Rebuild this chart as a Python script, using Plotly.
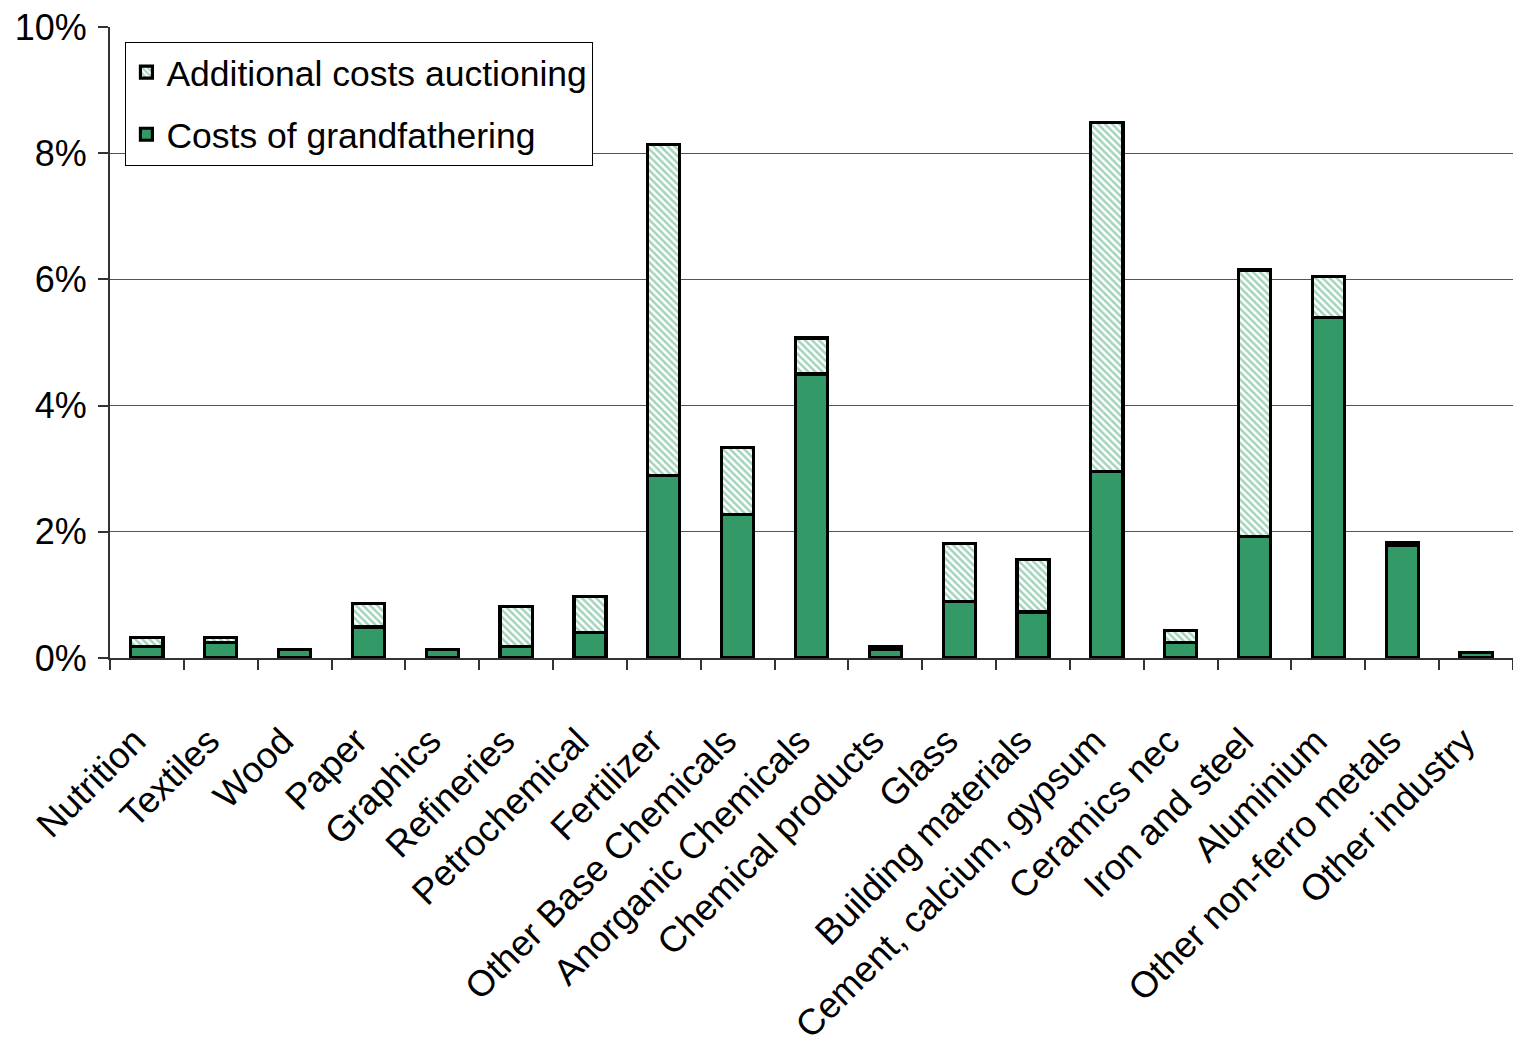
import plotly.graph_objects as go

# Sector names (x categories)
sectors = [
    "Nutrition", "Textiles", "Wood", "Paper", "Graphics", "Refineries",
    "Petrochemical", "Fertilizer", "Other Base Chemicals", "Anorganic Chemicals",
    "Chemical products", "Glass", "Building materials", "Cement, calcium, gypsum",
    "Ceramics nec", "Iron and steel", "Aluminium", "Other non-ferro metals",
    "Other industry",
]

# Cost increase under grandfathering (% of production value)
grandfathering = [0.18, 0.24, 0.14, 0.49, 0.14, 0.18, 0.41, 2.89, 2.27, 4.50,
                  0.13, 0.90, 0.73, 2.95, 0.24, 1.92, 5.39, 1.78, 0.09]

# Extra cost when allowances are fully auctioned (% of production value)
auction_extra = [0.14, 0.08, 0.0, 0.37, 0.0, 0.63, 0.57, 5.25, 1.07, 0.57,
                 0.05, 0.92, 0.83, 5.54, 0.20, 4.23, 0.66, 0.05, 0.0]

y_ticks = [0, 2, 4, 6, 8, 10]
y_tick_text = [f"{v}%" for v in y_ticks]

GREEN = "#339966"
FONT = "Liberation Sans, Arial, sans-serif"

fig = go.Figure()

fig.add_trace(go.Bar(
    x=sectors, y=grandfathering, name="Costs of grandfathering",
    marker=dict(color=GREEN, line=dict(color="black", width=3.2)),
    legendrank=2, legendgroup="g",
))

fig.add_trace(go.Bar(
    x=sectors, y=auction_extra, name="Additional costs auctioning",
    marker=dict(
        color="white",
        line=dict(color="black", width=3.2),
        pattern=dict(shape="\\", fgcolor="#4aa878", bgcolor="white",
                     size=5, solidity=0.5, fillmode="overlay"),
    ),
    legendrank=1, legendgroup="a",
))

fig.update_layout(
    width=1513, height=1056,
    margin=dict(l=110, r=0, t=27, b=398),
    barmode="stack", bargap=0.565,
    paper_bgcolor="white", plot_bgcolor="white",
    font=dict(family=FONT, size=35, color="black"),
    showlegend=True,
    legend=dict(
        x=0.011, y=0.977, xanchor="left", yanchor="top",
        bgcolor="white", bordercolor="black", borderwidth=1,
        font=dict(size=35.5, family=FONT),
        traceorder="grouped", tracegroupgap=13, itemwidth=30,
    ),
    xaxis=dict(
        type="category", tickangle=-45, tickson="boundaries",
        ticks="outside", ticklen=10, tickcolor="#333333", tickwidth=1.5,
        showline=True, linecolor="#333333", linewidth=2,
        showgrid=False, ticklabelstandoff=45, ticklabelshift=-12,
        tickfont=dict(size=36.5, family=FONT),
    ),
    yaxis=dict(
        range=[0, 10], tickvals=y_ticks, ticktext=y_tick_text,
        ticks="outside", ticklen=10, tickcolor="#333333", tickwidth=1.5,
        showline=True, linecolor="#333333", linewidth=2,
        showgrid=True, gridcolor="#555555", gridwidth=1,
        zeroline=False, ticklabelstandoff=4,
        tickfont=dict(size=36, family=FONT),
    ),
)

fig.write_html("out.html")
